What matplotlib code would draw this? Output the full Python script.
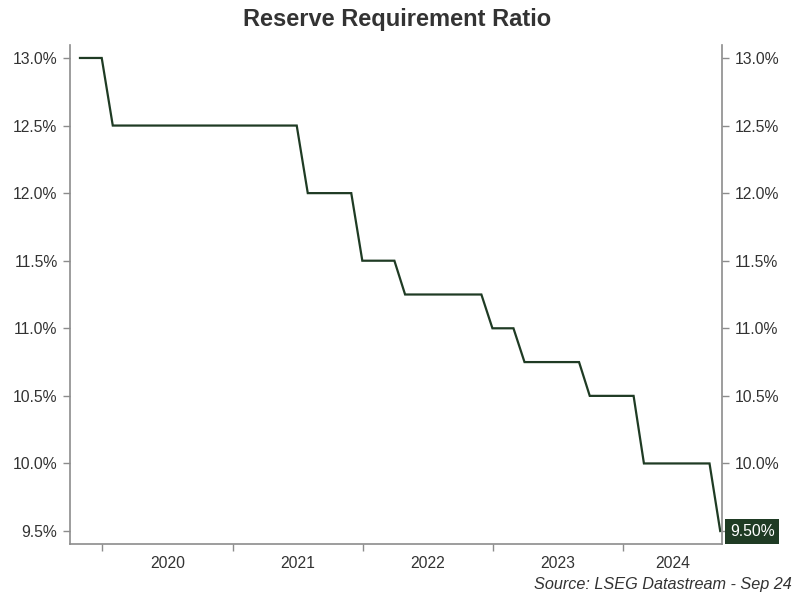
import numpy as np
import pandas as pd
import matplotlib
matplotlib.use('Agg')
import matplotlib.pyplot as plt
import matplotlib.transforms as mtransforms
from matplotlib.ticker import FuncFormatter

plt.rcParams['font.family'] = ['Liberation Sans', 'DejaVu Sans']

# month-end observations, Oct 2019 .. Sep 2024
dates = pd.date_range('2019-10-31', '2024-09-30', freq='ME')
rrr = ([13.0]*3 + [12.5]*18 + [12.0]*5 + [11.5]*4 + [11.25]*8 +
       [11.0]*3 + [10.75]*6 + [10.5]*5 + [10.0]*7 + [9.5]*1)
years = [2020, 2021, 2022, 2023, 2024]
yticks = [9.5, 10.0, 10.5, 11.0, 11.5, 12.0, 12.5, 13.0]

line_col = '#1f3b24'
txt_col = '#333333'
spine_col = '#8c8c8c'
fs = 11.3

fig = plt.figure(figsize=(7.94, 5.98), dpi=100)
ax = fig.add_axes([70/794, 54/598, 652/794, 499/598])

ax.plot(dates, rrr, color=line_col, lw=1.6, solid_joinstyle='miter')

xmin = pd.Timestamp('2019-10-03')
xmax = pd.Timestamp('2024-10-05')
ax.set_xlim(xmin, xmax)
ax.set_ylim(9.404, 13.096)

ax.set_yticks(yticks)
ax.yaxis.set_major_formatter(FuncFormatter(lambda v, p: f'{v:.1f}%'))
ax.yaxis.set_ticks_position('both')
ax.tick_params(axis='y', which='major', direction='out', length=5, width=1,
               color=spine_col, labelsize=fs, labelcolor=txt_col,
               labelleft=True, labelright=True, pad=4)
# the last-value tag sits where the lowest right label would be
ax.yaxis.get_major_ticks()[0].label2.set_visible(False)

# year boundaries as ticks, year names centred between them
starts = [pd.Timestamp(f'{y}-01-01') for y in years]
mids = []
for y in years:
    a = pd.Timestamp(f'{y}-01-01')
    b = min(pd.Timestamp(f'{y+1}-01-01'), xmax)
    mids.append(a + (b - a) / 2)
ax.set_xticks(starts)
ax.set_xticklabels([])
ax.set_xticks(mids, minor=True)
ax.set_xticklabels([str(y) for y in years], minor=True)
ax.tick_params(axis='x', which='major', direction='out', length=5, width=1,
               color=spine_col)
ax.tick_params(axis='x', which='minor', length=0, labelsize=fs,
               labelcolor=txt_col, pad=9)

for s in ['left', 'right', 'bottom']:
    ax.spines[s].set_color(spine_col)
    ax.spines[s].set_linewidth(1.2)
ax.spines['top'].set_visible(False)

# last value tag on the right axis
trans = mtransforms.blended_transform_factory(ax.transAxes, ax.transData)
ax.text(1.012, rrr[-1], f'{rrr[-1]:.2f}%', transform=trans, ha='left',
        va='center', fontsize=fs, color='white', clip_on=False, zorder=5,
        bbox=dict(boxstyle='square,pad=0.32', fc=line_col, ec='none'))

fig.text(0.5, 0.967, 'Reserve Requirement Ratio', ha='center', va='center',
         fontsize=17, fontweight='bold', color=txt_col)
fig.text(0.997, 0.022, 'Source: LSEG Datastream - Sep 24', ha='right',
         va='center', fontsize=11.7, style='italic', color=txt_col)

fig.savefig('out.png', dpi=100)
